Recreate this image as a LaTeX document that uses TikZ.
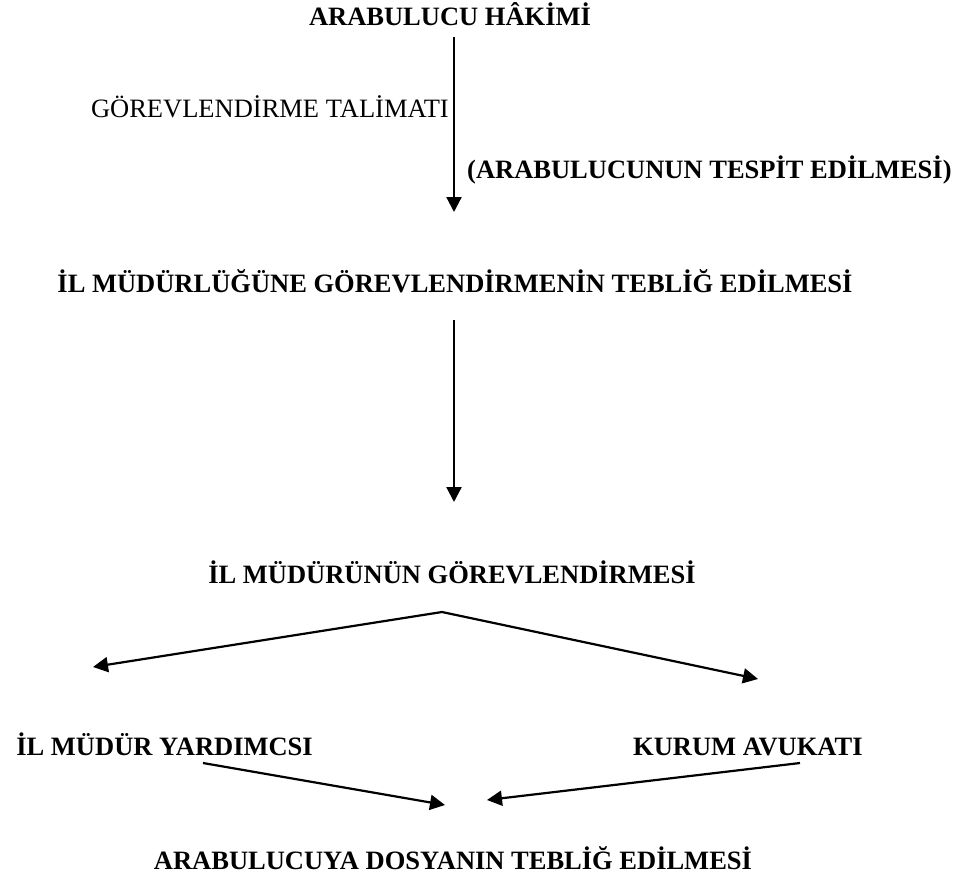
\documentclass[tikz,border=0pt]{standalone}
\usepackage{fontspec}
\setmainfont{Liberation Serif}
\usetikzlibrary{arrows.meta}
\begin{document}
\begin{tikzpicture}[x=1pt,y=-1pt,
  txt/.style={inner sep=0pt,font=\fontsize{26.5}{30}\selectfont},
  btxt/.style={txt,font=\fontsize{26.5}{30}\selectfont\bfseries},
  flow/.style={line width=2.2pt,-{Triangle[length=15pt,width=15pt]}}]
\useasboundingbox (0,0) rectangle (966,881);

% text nodes
\node[btxt,anchor=base] (hakim) at (450,25) {ARABULUCU HÂKİMİ};
\node[txt,anchor=base east] (talimat) at (449,117) {GÖREVLENDİRME TALİMATI};
\node[btxt,anchor=base west] (tespit) at (467,178) {(ARABULUCUNUN TESPİT EDİLMESİ)};
\node[btxt,anchor=base] (teblig) at (455,292) {İL MÜDÜRLÜĞÜNE GÖREVLENDİRMENİN TEBLİĞ EDİLMESİ};
\node[btxt,anchor=base] (mudur) at (452,583) {İL MÜDÜRÜNÜN GÖREVLENDİRMESİ};
\node[btxt,anchor=base east] (yard) at (313,755) {İL MÜDÜR YARDIMCSI};
\node[btxt,anchor=base west] (avukat) at (633,755) {KURUM AVUKATI};
\node[btxt,anchor=base] (dosya) at (453,869) {ARABULUCUYA DOSYANIN TEBLİĞ EDİLMESİ};

% connector end points
\coordinate (a1s) at (454,37);
\coordinate (a1e) at (454,212);
\coordinate (a2s) at (454,320);
\coordinate (a2e) at (454,502);
\coordinate (apex) at (442,612);
\coordinate (lt) at (93,667);
\coordinate (rt) at (758,679);
\coordinate (ls) at (203,763);
\coordinate (le) at (445,805);
\coordinate (rs) at (800,763);
\coordinate (re) at (487,800);

% connectors
\draw[flow] (a1s) -- (a1e);
\draw[flow] (a2s) -- (a2e);
\draw[flow] (apex) -- (lt);
\draw[flow] (apex) -- (rt);
\draw[flow] (ls) -- (le);
\draw[flow] (rs) -- (re);
\end{tikzpicture}
\end{document}
